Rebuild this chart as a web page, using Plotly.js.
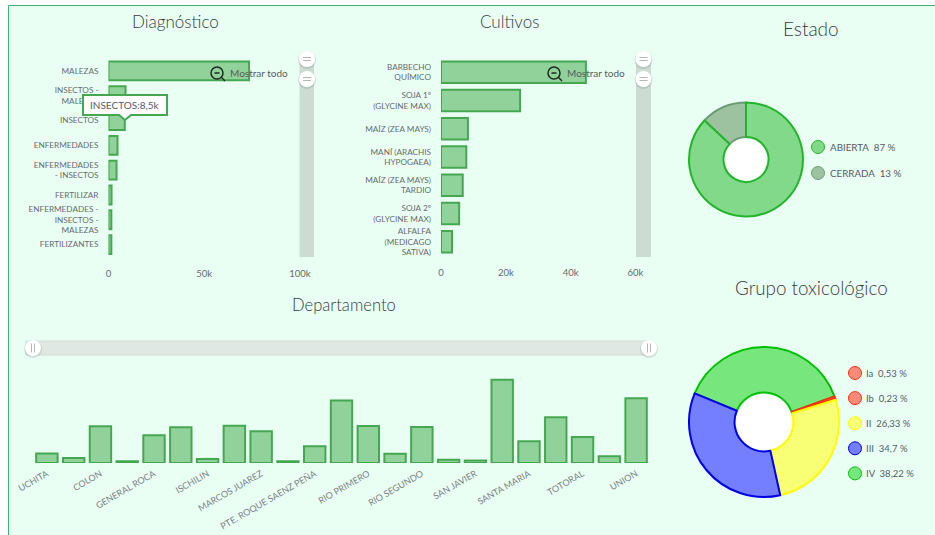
<!DOCTYPE html>
<html><head><meta charset="utf-8">
<script src="https://cdn.plot.ly/plotly-3.0.1.min.js"></script>
<style>html,body{margin:0;padding:0;background:#fff}#c{width:935px;height:535px}</style></head>
<body><div id="c"></div>
<script>
const diagCategories = ["MALEZAS","INSECTOS -<br>MALEZAS","INSECTOS","ENFERMEDADES","ENFERMEDADES<br>- INSECTOS","FERTILIZAR","ENFERMEDADES -<br>INSECTOS -<br>MALEZAS","FERTILIZANTES"];
const diagValues = [73400,8900,8500,4700,4200,1600,1500,1500];
const diagTicks = [0,50000,100000];
const diagTickLabels = ["0","50k","100k"];

const cultCategories = ["BARBECHO<br>QUÍMICO","SOJA 1º<br>(GLYCINE MAX)","MAÍZ (ZEA MAYS)","MANÍ (ARACHIS<br>HYPOGAEA)","MAÍZ (ZEA MAYS)<br>TARDIO","SOJA 2º<br>(GLYCINE MAX)","ALFALFA<br>(MEDICAGO<br>SATIVA)"];
const cultValues = [44700,24400,8300,7800,6700,5600,3400];
const cultTicks = [0,20000,40000,60000];
const cultTickLabels = ["0","20k","40k","60k"];

const deptCategories = ["UCHITA","CAPITAL","COLON","CRUZ DEL EJE","GENERAL ROCA","GENERAL SAN MARTIN","ISCHILIN","JUAREZ CELMAN","MARCOS JUAREZ","MINAS","PTE. ROQUE SAENZ PEÑA","RIO CUARTO","RIO PRIMERO","RIO SECO","RIO SEGUNDO","SAN ALBERTO","SAN JAVIER","SAN JUSTO","SANTA MARIA","TERCERO ARRIBA","TOTORAL","TULUMBA","UNION"];
const deptValues = [9.5,5,36.7,1.7,27.7,35.7,4,37.3,31.7,1.7,16.7,62.6,37,9.3,36,3.3,2.6,83.3,21.7,45.7,26,6.7,64.7];
const deptTickLabels = ["UCHITA","COLON","GENERAL ROCA","ISCHILIN","MARCOS JUAREZ","PTE. ROQUE SAENZ PEÑA","RIO PRIMERO","RIO SEGUNDO","SAN JAVIER","SANTA MARIA","TOTORAL","UNION"];

const estadoLabels = ["ABIERTA","CERRADA"];
const estadoValues = [87,13];
const estadoFill = ["#82d98a","#9dc2a0"];
const estadoLine = ["#22b52a","#6f9c78"];

const grupoLabels = ["Ia","Ib","II","III","IV"];
const grupoValues = [0.53,0.23,26.33,34.7,38.22];
const grupoFill = ["#fb8a78","#fb8a78","#f8ff75","#737fff","#77e67c"];
const grupoLine = ["#ff3010","#ff3010","#ffff00","#0000e6","#00c000"];

const W=935,H=535;
const fx=p=>p/W, fy=p=>1-p/H;
const FONT="Lato, 'Open Sans', sans-serif";
const barFill="#91d29a", barLine="#45a851";
const tickFont={family:FONT,size:8.2,color:"#666a6e"};

const hbar=(y,x,xa,ya)=>({type:"bar",orientation:"h",y,x,xaxis:xa,yaxis:ya,width:0.76,
  marker:{color:barFill,line:{color:barLine,width:2}},hoverinfo:"skip",showlegend:false});

const rev=a=>a.slice().reverse();
const traces=[
  hbar(diagCategories,diagValues,"x","y"),
  hbar(cultCategories,cultValues,"x2","y2"),
  {type:"bar",x:deptCategories,y:deptValues,xaxis:"x3",yaxis:"y3",width:0.8,
   marker:{color:barFill,line:{color:barLine,width:2}},hoverinfo:"skip",showlegend:false},
  {type:"pie",labels:rev(estadoLabels),values:rev(estadoValues),sort:false,direction:"clockwise",
   rotation:-estadoValues[1]*3.6,hole:0.395,textinfo:"none",hoverinfo:"skip",showlegend:false,
   domain:{x:[fx(689),fx(803)],y:[fy(216.5),fy(102.5)]},
   marker:{colors:rev(estadoFill),line:{color:rev(estadoLine),width:2}}},
  {type:"pie",labels:[grupoLabels[4],...grupoLabels.slice(0,4)],values:[grupoValues[4],...grupoValues.slice(0,4)],
   sort:false,direction:"clockwise",rotation:70-grupoValues[4]*3.6,hole:0.393,textinfo:"none",hoverinfo:"skip",showlegend:false,
   domain:{x:[fx(689),fx(839)],y:[fy(497),fy(347)]},
   marker:{colors:[grupoFill[4],...grupoFill.slice(0,4)],line:{color:[grupoLine[4],...grupoLine.slice(0,4)],width:2}}}
];

const rect=(x0,y0,x1,y1,fill,line,layer,lw)=>({type:"rect",xref:"paper",yref:"paper",x0:fx(x0),x1:fx(x1),y0:fy(y0),y1:fy(y1),fillcolor:fill,line:{color:line||fill,width:line?(lw||1):0},layer:layer||"below"});
const circ=(cx,cy,r,fill,line,layer,lw)=>({type:"circle",xref:"paper",yref:"paper",x0:fx(cx-r),x1:fx(cx+r),y0:fy(cy-r),y1:fy(cy+r),fillcolor:fill,line:{color:line||fill,width:line?(lw||1):0},layer:layer||"above"});
const seg=(x0,y0,x1,y1,color,w)=>({type:"line",xref:"paper",yref:"paper",x0:fx(x0),x1:fx(x1),y0:fy(y0),y1:fy(y1),line:{color,width:w},layer:"above"});
const txt=(text,x,y,size,anchor,color,weight)=>({text,x:fx(x),y:fy(y),xref:"paper",yref:"paper",xanchor:anchor||"center",yanchor:"middle",showarrow:false,font:{family:FONT,size,color:color||"#565c62",weight:weight||400}});

const shapes=[
  rect(8.5,5.5,940,540,"#eafff4","#3cb371","below",1),
  circ(745.7,159.5,21,"#ffffff",null,"below"),
  circ(764,422,28,"#ffffff",null,"below"),
  rect(299.5,60,314,257,"#ccdcd3",null,"below"),
  rect(636,60,651,257,"#ccdcd3",null,"below"),
  rect(26,341,651,355,"#e0e8e4","#d3dcd7","below",1)
];
[307,643.5].forEach(x=>{[59,79].forEach(y=>{
  shapes.push(circ(x,y+1,9,"rgba(120,130,125,0.25)"));
  shapes.push(circ(x,y,8,"#ffffff"));
  shapes.push(seg(x-4,y-1.5,x+4,y-1.5,"#b5b5b5",1));
  shapes.push(seg(x-4,y+1.5,x+4,y+1.5,"#b5b5b5",1));
});});
[33,649].forEach(x=>{
  shapes.push(circ(x,349,9,"rgba(120,130,125,0.25)"));
  shapes.push(circ(x,348,8,"#ffffff"));
  shapes.push(seg(x-1.5,343.5,x-1.5,352.5,"#b5b5b5",1));
  shapes.push(seg(x+1.5,343.5,x+1.5,352.5,"#b5b5b5",1));
});
[217,554].forEach(x=>{
  shapes.push(circ(x,73,6,"rgba(0,0,0,0)","#1f2a24","above",1.5));
  shapes.push(seg(x-2.5,73,x+2.5,73,"#1f2a24",1.5));
  shapes.push(seg(x+4.3,77.3,x+8,81,"#1f2a24",1.5));
});
shapes.push({type:"path",xref:"paper",yref:"paper",layer:"above",fillcolor:"#ffffff",line:{color:"#45a851",width:2},
  path:[[83,95],[167,95],[167,115],[131,115],[125,120],[119,115],[83,115]].map((p,i)=>(i?"L":"M")+fx(p[0])+","+fy(p[1])).join(" ")+" Z"});

const TITLE="#353b41";
const annotations=[
  txt("Diagnóstico",175,21.5,17,"center",TITLE,300),
  txt("Cultivos",510,21.5,17,"center",TITLE,300),
  txt("Departamento",344,304.5,16.6,"center",TITLE,300),
  txt("Estado",811,28.5,19,"center",TITLE,300),
  txt("Grupo toxicológico",811,287.5,18.8,"center",TITLE,300),
  txt("Mostrar todo",228,73.5,10,"left"),
  txt("Mostrar todo",565,73.5,10,"left"),
  txt("INSECTOS:8,5k",125,104.5,10,"center")
];
estadoLabels.forEach((l,i)=>{
  const y=[147,173][i];
  shapes.push(circ(818,y,6.5,estadoFill[i],estadoLine[i],"above",1));
  annotations.push(txt(l+"&nbsp;&nbsp;"+estadoValues[i]+" %",827.5,y,9.8,"left"));
});
grupoLabels.forEach((l,i)=>{
  const y=373+i*25.1;
  shapes.push(circ(855,y,6.5,grupoFill[i],grupoLine[i],"above",1));
  annotations.push(txt(l+"&nbsp;&nbsp;"+String(grupoValues[i]).replace(".",",")+" %",864,y,9.5,"left"));
});

const vax=(cats,dom)=>({domain:[fy(dom[1]),fy(dom[0])],type:"category",categoryorder:"array",categoryarray:cats,autorange:"reversed",
  showline:false,showgrid:false,zeroline:false,ticks:"",tickfont:tickFont,automargin:false,ticklabelstandoff:9});
const hax=(dom,max,tv,tt)=>({domain:[fx(dom[0]),fx(dom[1])],range:[0,max],tickvals:tv,ticktext:tt,showline:false,showgrid:false,zeroline:false,ticks:"",tickfont:{...tickFont,size:9.5},ticklabelstandoff:9,automargin:false});

const yA=vax(diagCategories,[58.5,257]); yA.anchor="x";
const yB=vax(cultCategories,[58,256]); yB.anchor="x2";
const xA=hax([108.5,300],100000,diagTicks,diagTickLabels); xA.anchor="y";
const xB=hax([441,635.5],60000,cultTicks,cultTickLabels); xB.anchor="y2";

const layout={
  width:W,height:H,margin:{l:0,r:0,t:0,b:0},paper_bgcolor:"#ffffff",plot_bgcolor:"rgba(0,0,0,0)",showlegend:false,
  xaxis:xA,yaxis:yA,xaxis2:xB,yaxis2:yB,
  xaxis3:{domain:[fx(33.5),fx(649.5)],anchor:"y3",type:"category",categoryorder:"array",categoryarray:deptCategories,
    tickmode:"array",tickvals:deptTickLabels,ticktext:deptTickLabels,tickangle:-30,showline:false,showgrid:false,zeroline:false,ticks:"",tickfont:{family:FONT,size:9,color:"#7a7e82"},automargin:false,ticklabelstandoff:3},
  yaxis3:{domain:[fy(463),fy(370)],anchor:"x3",range:[0,93],visible:false},
  shapes,annotations
};
Plotly.newPlot("c",traces,layout,{staticPlot:true,displayModeBar:false});
</script></body></html>
